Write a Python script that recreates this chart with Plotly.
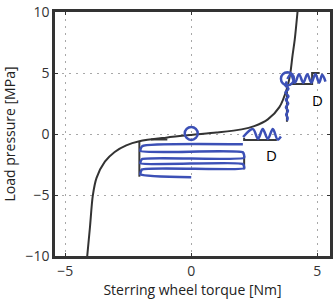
import plotly.graph_objects as go

# Black characteristic curve
curve_x = [-4.13, -4.02, -3.91, -3.76, -3.43, -3.04, -2.58, -2.06, -1.0, 0.0, 1.0, 2.0, 2.5, 3.04, 3.5, 3.8, 3.93, 4.02, 4.11, 4.22]
curve_y = [-10.0, -7.6, -5.07, -3.6, -2.27, -1.47, -0.93, -0.6, -0.3, -0.08, 0.12, 0.38, 0.65, 1.2, 2.2, 3.73, 4.93, 6.4, 7.73, 10.0]

# Black reference step segments (None separates pieces)
step_x = [-1.6, -0.95, None, -2.06, -2.06, None, 2.1, 2.1, 3.4, None, 2.1, 2.1, None,
          3.8, 3.8, None, 3.95, 4.8, 4.8, 5.1]
step_y = [-0.45, -0.45, None, -0.6, -3.5, None, -0.3, -0.5, -0.5, None, -1.8, -2.9, None,
          4.0, 1.0, None, 4.1, 4.1, 5.0, 5.0]

# Blue response traces
zig_x = [2.05, -1.95, -2.02, 2.05, 2.1, -1.95, -2.02, 2.05, 2.1, -1.95, -2.02, 0.0]
zig_y = [-0.85, -1.0, -1.4, -1.5, -1.95, -2.05, -2.4, -2.45, -2.8, -2.9, -3.3, -3.55]

wig1_x = [2.06, 2.45, 2.65, 2.84, 3.04, 3.24, 3.43, 3.56]
wig1_y = [-0.25, 0.4, -0.4, 0.4, -0.4, 0.4, -0.45, -0.2]

wig2_x = [3.82, 3.95, 4.12, 4.28, 4.45, 4.61, 4.77, 4.93, 5.08, 5.2, 5.33]
wig2_y = [4.5, 4.9, 4.2, 4.9, 4.2, 4.9, 4.2, 4.9, 4.2, 4.85, 4.3]

wig3_x = [3.8, 3.74, 3.86, 3.74, 3.86, 3.76, 3.85, 3.76, 3.84, 3.77, 3.83, 3.8]
wig3_y = [4.3, 4.0, 3.7, 3.4, 3.1, 2.8, 2.5, 2.2, 1.9, 1.6, 1.3, 1.1]

circ_x = [0.0, 3.82]
circ_y = [0.05, 4.53]

label_x = [3.2, 5.0]
label_y = [-1.76, 2.8]
label_t = ["D", "D"]

x_ticks = [-5, 0, 5]
y_ticks = [-10, -5, 0, 5, 10]

BLUE = "rgb(60,80,182)"
DARK = "#333333"

fig = go.Figure()
fig.add_trace(go.Scatter(x=step_x, y=step_y, mode="lines",
                         line=dict(color="#3a3a3a", width=2), hoverinfo="skip"))
fig.add_trace(go.Scatter(x=curve_x, y=curve_y, mode="lines",
                         line=dict(color=DARK, width=2, shape="spline", smoothing=0.8)))
fig.add_trace(go.Scatter(x=zig_x, y=zig_y, mode="lines",
                         line=dict(color=BLUE, width=2.5, shape="spline", smoothing=0.5)))
for wx, wy in [(wig1_x, wig1_y), (wig2_x, wig2_y), (wig3_x, wig3_y)]:
    fig.add_trace(go.Scatter(x=wx, y=wy, mode="lines",
                             line=dict(color=BLUE, width=2.5, shape="spline", smoothing=1.0)))
fig.add_trace(go.Scatter(x=circ_x, y=circ_y, mode="markers",
                         marker=dict(symbol="circle-open", size=13, color=BLUE,
                                     line=dict(width=2.5, color=BLUE))))
for lx, ly, lt in zip(label_x, label_y, label_t):
    fig.add_annotation(x=lx, y=ly, text=lt, showarrow=False,
                       font=dict(family="Open Sans", size=15, color="black"))

axis_common = dict(
    showline=True, mirror="ticks", linecolor=DARK, linewidth=2.5,
    ticks="inside", ticklen=3, tickcolor=DARK,
    showgrid=True, gridcolor="#a8a8a8", gridwidth=1, griddash="2px,5px",
    zeroline=False, ticklabeloverflow="allow",
    tickfont=dict(family="Open Sans", size=14, color="#333333"),
)
fig.update_xaxes(range=[-5.41, 5.51], tickvals=x_ticks,
                 ticktext=["\u22125", "0", "5"],
                 title=dict(text="Sterring wheel torque [Nm]", standoff=6,
                            font=dict(family="Open Sans", size=14, color="#222222")),
                 **axis_common)
fig.update_yaxes(range=[-10, 10], tickvals=y_ticks,
                 ticktext=["\u221210", "\u22125", "0", "5", "10"],
                 title=dict(text="Load pressure [MPa]", standoff=10,
                            font=dict(family="Open Sans", size=14, color="#222222")),
                 **axis_common)
fig.update_layout(width=335, height=306, margin=dict(l=55, r=2, t=6, b=50),
                  plot_bgcolor="white", paper_bgcolor="white", showlegend=False)
fig.write_html("out.html")
